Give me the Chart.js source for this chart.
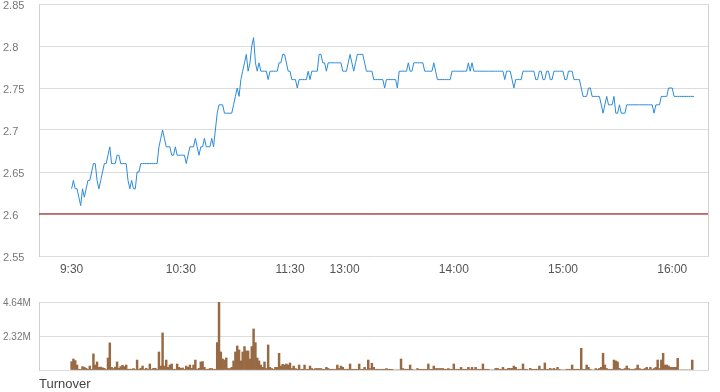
<!DOCTYPE html>
<html>
<head>
<meta charset="utf-8">
<script src="https://cdn.jsdelivr.net/npm/chart.js@4.4.0/dist/chart.umd.min.js"></script>
<style>
  html, body { margin: 0; padding: 0; background: #fff; }
  #wrap { position: relative; width: 720px; height: 392px; overflow: hidden; font-family: "Liberation Sans", Arial, sans-serif; }
  #priceBox { position: absolute; left: 0; top: 0; width: 720px; height: 285px; }
  #volBox { position: absolute; left: 0; top: 285px; width: 720px; height: 95px; }
  #turnover { position: absolute; left: 39px; top: 377px; font-size: 13px; line-height: 13px; color: #444; }
</style>
</head>
<body>
<div id="wrap">
  <div id="priceBox"><canvas id="priceChart"></canvas></div>
  <div id="volBox"><canvas id="volChart"></canvas></div>
  <div id="turnover">Turnover</div>
</div>
<script>
// trading minutes from 9:30 (lunch break removed), one value per minute
const tickMinutes = [0, 60, 120, 150, 210, 270, 330];
const tickLabels = ['9:30', '10:30', '11:30', '13:00', '14:00', '15:00', '16:00'];
const priceTicks = [2.55, 2.6, 2.65, 2.7, 2.75, 2.8, 2.85];
const volTicks = [0, 2.32, 4.64];
const prevClose = 2.6;
const xMin = -17.9;
const xMax = 350.2;

const prices = [
    2.63, 2.64, 2.63, 2.63, 2.62, 2.61, 2.63, 2.62, 2.63, 2.64,
    2.64, 2.65, 2.66, 2.66, 2.64, 2.63, 2.64, 2.65, 2.66, 2.66,
    2.67, 2.68, 2.66, 2.66, 2.66, 2.67, 2.67, 2.66, 2.66, 2.66,
    2.66, 2.64, 2.63, 2.64, 2.63, 2.63, 2.65, 2.65, 2.66, 2.66,
    2.66, 2.66, 2.66, 2.66, 2.66, 2.66, 2.66, 2.66, 2.68, 2.69,
    2.70, 2.69, 2.68, 2.68, 2.68, 2.67, 2.67, 2.68, 2.67, 2.67,
    2.67, 2.67, 2.67, 2.66, 2.67, 2.68, 2.68, 2.68, 2.69, 2.68,
    2.67, 2.68, 2.68, 2.69, 2.68, 2.68, 2.68, 2.69, 2.68, 2.70,
    2.72, 2.73, 2.73, 2.73, 2.72, 2.72, 2.72, 2.72, 2.72, 2.73,
    2.74, 2.75, 2.74, 2.76, 2.77, 2.78, 2.79, 2.77, 2.78, 2.80,
    2.81, 2.78, 2.77, 2.78, 2.77, 2.77, 2.77, 2.77, 2.76, 2.77,
    2.77, 2.77, 2.77, 2.77, 2.78, 2.78, 2.79, 2.79, 2.78, 2.77,
    2.77, 2.76, 2.76, 2.76, 2.75, 2.76, 2.76, 2.76, 2.76, 2.76,
    2.77, 2.76, 2.77, 2.77, 2.77, 2.77, 2.79, 2.79, 2.78, 2.78,
    2.77, 2.78, 2.78, 2.78, 2.78, 2.78, 2.78, 2.78, 2.78, 2.77,
    2.77, 2.77, 2.78, 2.79, 2.78, 2.77, 2.78, 2.79, 2.79, 2.79,
    2.79, 2.78, 2.77, 2.77, 2.77, 2.77, 2.76, 2.76, 2.76, 2.76,
    2.76, 2.76, 2.75, 2.76, 2.76, 2.76, 2.76, 2.76, 2.76, 2.75,
    2.77, 2.77, 2.77, 2.77, 2.77, 2.78, 2.77, 2.77, 2.78, 2.78,
    2.78, 2.78, 2.78, 2.78, 2.77, 2.77, 2.77, 2.77, 2.77, 2.78,
    2.77, 2.76, 2.76, 2.76, 2.76, 2.76, 2.76, 2.76, 2.76, 2.77,
    2.77, 2.77, 2.77, 2.77, 2.77, 2.77, 2.77, 2.77, 2.78, 2.77,
    2.78, 2.77, 2.77, 2.77, 2.77, 2.77, 2.77, 2.77, 2.77, 2.77,
    2.77, 2.77, 2.77, 2.77, 2.77, 2.77, 2.77, 2.77, 2.76, 2.77,
    2.77, 2.77, 2.76, 2.75, 2.76, 2.76, 2.76, 2.76, 2.77, 2.77,
    2.77, 2.77, 2.77, 2.77, 2.77, 2.76, 2.76, 2.77, 2.77, 2.76,
    2.76, 2.77, 2.77, 2.76, 2.76, 2.77, 2.77, 2.77, 2.77, 2.77,
    2.77, 2.76, 2.76, 2.77, 2.77, 2.77, 2.76, 2.76, 2.76, 2.76,
    2.75, 2.74, 2.74, 2.74, 2.75, 2.75, 2.74, 2.74, 2.74, 2.74,
    2.74, 2.73, 2.72, 2.73, 2.74, 2.73, 2.73, 2.73, 2.74, 2.72,
    2.72, 2.73, 2.72, 2.72, 2.72, 2.73, 2.73, 2.73, 2.73, 2.73,
    2.73, 2.73, 2.73, 2.73, 2.73, 2.73, 2.73, 2.73, 2.73, 2.73,
    2.72, 2.73, 2.73, 2.73, 2.74, 2.74, 2.74, 2.74, 2.75, 2.75,
    2.75, 2.74, 2.74, 2.74, 2.74, 2.74, 2.74, 2.74, 2.74, 2.74,
    2.74, 2.74, 2.74
];

// turnover per minute, in millions
const volumes = [
    0.57, 0.75, 0.64, 0.34, 0.05, 0.02, 0.23, 0.18, 0.11, 0.05,
    0.27, 0.05, 1.10, 0.34, 0.55, 0.18, 0.20, 0.15, 0.11, 0.03,
    0.82, 1.85, 0.18, 0.10, 0.20, 0.55, 0.12, 0.23, 0.32, 0.23,
    0.34, 0.05, 0.06, 0.05, 0.10, 0.05, 0.68, 0.05, 0.12, 0.27,
    0.05, 0.12, 0.05, 0.41, 0.05, 0.11, 0.12, 0.05, 1.23, 0.27,
    2.53, 0.27, 0.68, 0.18, 0.34, 0.41, 0.05, 0.05, 0.41, 0.18,
    0.11, 0.14, 0.05, 0.27, 0.18, 0.34, 0.11, 0.34, 0.68, 0.05,
    0.11, 0.55, 0.57, 0.18, 0.05, 0.05, 0.10, 0.10, 0.05, 0.05,
    1.87, 4.64, 1.23, 0.75, 0.68, 0.82, 0.10, 0.10, 0.18, 0.62,
    1.23, 1.64, 1.37, 0.62, 1.23, 1.60, 1.30, 1.30, 0.75, 1.60,
    2.80, 1.87, 0.82, 0.62, 0.34, 0.18, 0.55, 0.10, 1.71, 0.18,
    0.10, 0.05, 0.18, 0.18, 1.14, 0.27, 0.39, 0.34, 0.41, 0.34,
    0.48, 0.10, 0.27, 0.10, 0.05, 0.34, 0.05, 0.05, 0.34, 0.05,
    0.05, 0.27, 0.10, 0.05, 0.10, 0.10, 0.10, 0.10, 0.05, 0.05,
    0.18, 0.10, 0.05, 0.05, 0.05, 0.05, 0.34, 0.10, 0.27, 0.18,
    0.05, 0.05, 0.05, 0.41, 0.05, 0.05, 0.05, 0.05, 0.41, 0.05,
    0.05, 0.18, 0.05, 0.68, 0.10, 0.46, 0.18, 0.05, 0.05, 0.05,
    0.05, 0.05, 0.05, 0.10, 0.05, 0.05, 0.05, 0, 0, 0,
    0, 0.75, 0.10, 0.05, 0.05, 0.05, 0.34, 0.05, 0, 0,
    0.10, 0.05, 0.05, 0.05, 0.05, 0.05, 0.41, 0.05, 0.05, 0.27,
    0.10, 0.10, 0.10, 0.10, 0.10, 0.05, 0.05, 0.10, 0.05, 0.05,
    0.41, 0.05, 0.05, 0.05, 0.18, 0.05, 0.05, 0.05, 0.18, 0.05,
    0.18, 0.05, 0.18, 0.05, 0.05, 0.05, 0.41, 0.05, 0.05, 0.05,
    0, 0, 0, 0.11, 0.11, 0.05, 0.05, 0.18, 0.05, 0.05,
    0.11, 0.11, 0.11, 0.27, 0.18, 0.05, 0.05, 0.05, 0.41, 0.05,
    0.05, 0, 0.11, 0.05, 0.05, 0.05, 0.05, 0.27, 0.05, 0.05,
    0.48, 0.05, 0.05, 0.11, 0.05, 0.11, 0.05, 0.18, 0.05, 0,
    0, 0, 0.05, 0.05, 0.05, 0.34, 0.05, 0.05, 0.05, 0.05,
    1.48, 0.05, 0.05, 0.34, 0.18, 0.05, 0, 0, 0.10, 0.05,
    0.11, 0.18, 1.14, 0.34, 0.10, 0.05, 0.05, 0.05, 0.68, 0.62,
    0.55, 0.11, 0.05, 0.05, 0.10, 0.27, 0.10, 0.05, 0.05, 0.05,
    0.10, 0.34, 0.10, 0.05, 0.05, 0.10, 0.18, 0.05, 0.18, 0.05,
    0.10, 0.18, 0.68, 0.10, 0.68, 1.14, 0.34, 0.34, 0.27, 0.18,
    0.18, 0.18, 0.18, 0.80, 0, 0, 0, 0, 0, 0,
    0, 0.68
];

const FONT = '"Liberation Sans", Arial, sans-serif';

// vertical line on the right edge of each plot area
const rightFrame = {
    id: 'rightFrame',
    afterDraw(chart) {
        const { ctx, chartArea } = chart;
        const x = Math.round(chartArea.right) - 0.5;
        ctx.save();
        ctx.strokeStyle = '#d2d2d2';
        ctx.lineWidth = 1;
        ctx.beginPath();
        ctx.moveTo(x, chartArea.top);
        ctx.lineTo(x, chartArea.bottom);
        ctx.stroke();
        ctx.restore();
    }
};

// fixed-width y axis without the extra label padding above/below
function fixYAxis(axis) {
    axis.width = 36;
    axis.paddingTop = 0;
    axis.paddingBottom = 0;
}

const priceChart = new Chart(document.getElementById('priceChart').getContext('2d'), {
    type: 'line',
    data: {
        datasets: [{
            label: 'Price',
            data: prices.map((p, i) => ({ x: i, y: p })),
            borderColor: '#2b8bd8',
            borderWidth: 1,
            pointRadius: 0,
            tension: 0,
            fill: false
        }, {
            label: 'Previous close',
            data: [{ x: xMin, y: prevClose }, { x: xMax, y: prevClose }],
            borderColor: '#8c0000',
            borderWidth: 1,
            pointRadius: 0,
            fill: false
        }]
    },
    options: {
        responsive: true,
        maintainAspectRatio: false,
        animation: false,
        layout: { padding: { left: 3, right: 11, top: 4, bottom: 0 } },
        plugins: { legend: { display: false }, tooltip: { enabled: false } },
        scales: {
            x: {
                type: 'linear',
                min: xMin,
                max: xMax,
                afterBuildTicks: axis => { axis.ticks = tickMinutes.map(v => ({ value: v })); },
                afterFit: axis => { axis.height = 29; axis.paddingLeft = 0; axis.paddingRight = 0; },
                ticks: {
                    autoSkip: false,
                    maxRotation: 0,
                    padding: 6,
                    color: '#555',
                    font: { family: FONT, size: 12 },
                    callback: (v, i) => tickLabels[i]
                },
                grid: { display: false, drawTicks: false },
                border: { display: false }
            },
            y: {
                min: 2.55,
                max: 2.85,
                afterBuildTicks: axis => { axis.ticks = priceTicks.map(v => ({ value: v })); },
                afterFit: fixYAxis,
                ticks: {
                    crossAlign: 'far',
                    labelOffset: 1.5,
                    color: '#777',
                    font: { family: FONT, size: 11 },
                    callback: v => String(v)
                },
                grid: { color: '#dcdcdc', drawTicks: false },
                border: { display: true, color: '#d2d2d2' }
            }
        }
    },
    plugins: [rightFrame]
});

const volChart = new Chart(document.getElementById('volChart').getContext('2d'), {
    type: 'bar',
    data: {
        datasets: [{
            label: 'Turnover',
            data: volumes.map((v, i) => ({ x: i, y: v })),
            backgroundColor: '#976a44',
            borderWidth: 0,
            barPercentage: 1,
            categoryPercentage: 1
        }]
    },
    options: {
        responsive: true,
        maintainAspectRatio: false,
        animation: false,
        layout: { padding: { left: 3, right: 11, top: 17, bottom: 10 } },
        plugins: { legend: { display: false }, tooltip: { enabled: false } },
        scales: {
            x: {
                type: 'linear',
                min: xMin,
                max: xMax,
                offset: false,
                display: false
            },
            y: {
                min: 0,
                max: 4.64,
                afterBuildTicks: axis => { axis.ticks = volTicks.map(v => ({ value: v })); },
                afterFit: fixYAxis,
                ticks: {
                    crossAlign: 'far',
                    labelOffset: 1,
                    color: '#777',
                    font: { family: FONT, size: 10 },
                    callback: v => (v === 0 ? '' : v.toFixed(2) + 'M')
                },
                grid: { color: '#dcdcdc', drawTicks: false },
                border: { display: true, color: '#d2d2d2' }
            }
        }
    },
    plugins: [rightFrame]
});
</script>
</body>
</html>
